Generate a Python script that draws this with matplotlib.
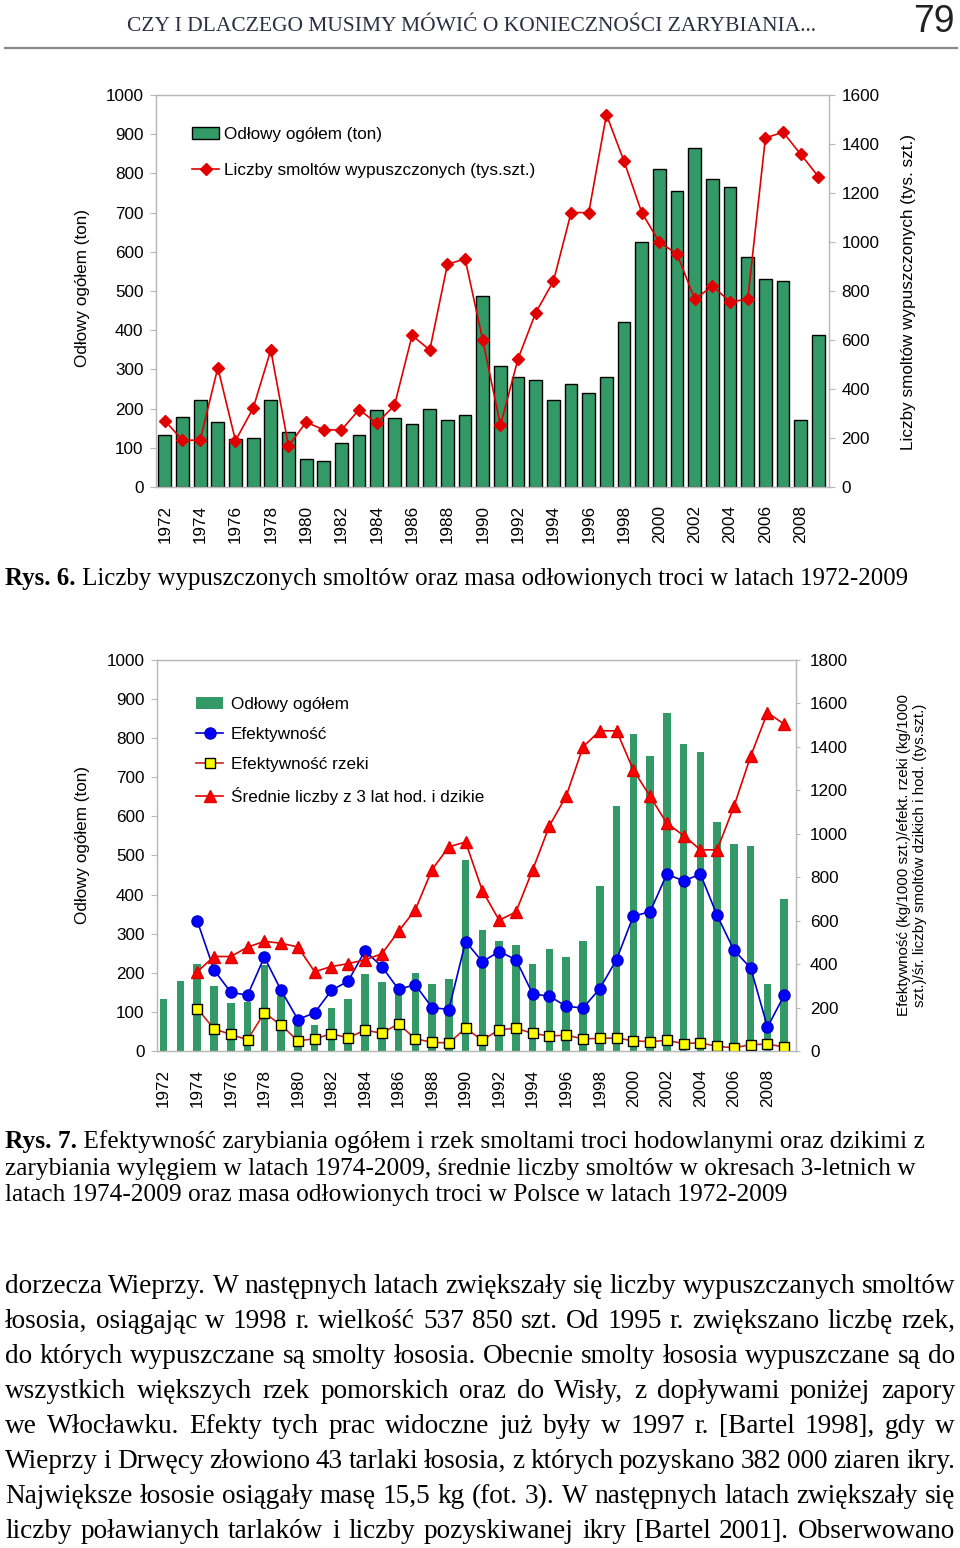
import matplotlib
matplotlib.use("Agg")
import matplotlib.pyplot as plt
from matplotlib.patches import Patch
from matplotlib.lines import Line2D

# ---- dane ----
lata = list(range(1972, 2010))
lata_ef = list(range(1974, 2010))

odlowy = [133, 179, 222, 165, 122, 126, 221, 141, 71, 66, 111, 133, 196, 177, 161, 200, 171, 184,
          488, 309, 281, 272, 222, 262, 241, 281, 422, 626, 811, 755, 864, 785, 765, 586, 530, 525,
          172, 389]
smolty = [271, 191, 191, 487, 189, 322, 559, 167, 265, 233, 233, 316, 260, 333, 619, 559, 909, 931,
          599, 252, 524, 712, 840, 1120, 1120, 1520, 1329, 1120, 999, 951, 766, 820, 756, 766, 1425,
          1448, 1358, 1267]

efektywnosc = [599, 373, 270, 257, 432, 279, 145, 176, 279, 322, 461, 389, 284, 305, 200, 191, 504,
               411, 458, 421, 263, 252, 206, 198, 287, 421, 621, 641, 814, 783, 814, 624, 464, 382,
               110, 257]
efekt_rzeki = [195, 102, 76, 52, 176, 119, 47, 56, 79, 61, 96, 82, 125, 56, 40, 37, 104, 50, 98,
               105, 81, 69, 73, 56, 58, 60, 47, 43, 49, 34, 38, 21, 15, 29, 32, 18]
srednie_3 = [365, 435, 435, 478, 505, 496, 479, 365, 389, 402, 420, 447, 551, 650, 835, 940, 962,
             738, 602, 640, 834, 1037, 1174, 1400, 1474, 1474, 1294, 1172, 1048, 992, 926, 926,
             1126, 1358, 1558, 1504]

naglowek = "CZY I DLACZEGO MUSIMY MÓWIĆ O KONIECZNOŚCI ZARYBIANIA..."
rys6 = [("Rys. 6.", "bold"), (" Liczby wypuszczonych smoltów oraz masa odłowionych troci w latach 1972-2009", "normal")]
rys7 = [[("Rys. 7.", "bold"), (" Efektywność zarybiania ogółem i rzek smoltami troci hodowlanymi oraz dzikimi z", "normal")],
        [("zarybiania wylęgiem w latach 1974-2009, średnie liczby smoltów w okresach 3-letnich w", "normal")],
        [("latach 1974-2009 oraz masa odłowionych troci w Polsce w latach 1972-2009", "normal")]]
tekst = [
    "dorzecza Wieprzy. W następnych latach zwiększały się liczby wypuszczanych smoltów",
    "łososia, osiągając w 1998 r. wielkość 537 850 szt. Od 1995 r. zwiększano liczbę rzek,",
    "do których wypuszczane są smolty łososia. Obecnie smolty łososia wypuszczane są do",
    "wszystkich większych rzek pomorskich oraz do Wisły, z dopływami poniżej zapory",
    "we Włocławku. Efekty tych prac widoczne już były w 1997 r. [Bartel 1998], gdy w",
    "Wieprzy i Drwęcy złowiono 43 tarlaki łososia, z których pozyskano 382 000 ziaren ikry.",
    "Największe łososie osiągały masę 15,5 kg (fot. 3). W następnych latach zwiększały się",
    "liczby poławianych tarlaków i liczby pozyskiwanej ikry [Bartel 2001]. Obserwowano",
]

W, H = 960, 1548
SANS = "Liberation Sans"
SERIF = "Liberation Serif"
ZIELONY = "#339966"
SZARY = "#b8b8b8"

fig = plt.figure(figsize=(9.6, 15.48), dpi=100)
renderer = fig.canvas.get_renderer()


def fx(x):
    return x / W


def fy(y):
    return 1 - y / H


def szer(t):
    return t.get_window_extent(renderer).width


def linia(x0, y, runs, size, color="black"):
    # runs: (tekst, waga) kolejno w jednej linii
    x = x0
    for s, waga in runs:
        t = fig.text(fx(x), fy(y), s, family=SERIF, fontsize=size, weight=waga,
                     color=color, va="baseline", ha="left")
        x += szer(t)
    return x - x0


def dopasuj(runs, target):
    w = 0
    for s, waga in runs:
        t = fig.text(0, 0, s, family=SERIF, fontsize=20, weight=waga)
        w += szer(t)
        t.remove()
    return 20 * target / w


def wyjustuj(x0, x1, y, s, size):
    slowa = s.split(" ")
    txt = [fig.text(0, 0, w, family=SERIF, fontsize=size, va="baseline") for w in slowa]
    szerokosci = [szer(t) for t in txt]
    odstep = (x1 - x0 - sum(szerokosci)) / (len(slowa) - 1)
    x = x0
    for t, w in zip(txt, szerokosci):
        t.set_position((fx(x), fy(y)))
        x += w + odstep


# ---- naglowek ----
rozm = dopasuj([(naglowek, "normal")], 688)
linia(127, 31, [(naglowek, "normal")], rozm, color="#2e2e44")
fig.text(fx(955), fy(32), "79", family=SANS, fontsize=27, ha="right", va="baseline", color="#222222")
fig.add_artist(Line2D([fx(5), fx(957)], [fy(48), fy(48)], color="#8a8a8a", lw=1.6))


def wspolne(ax, axr, lewy_max, prawy_max, prawy_krok, xlim):
    ax.set_xlim(*xlim)
    ax.set_ylim(0, lewy_max)
    axr.set_ylim(0, prawy_max)
    ax.set_yticks(range(0, lewy_max + 1, 100))
    axr.set_yticks(range(0, prawy_max + 1, prawy_krok))
    ax.set_xticks(lata[::2])
    ax.set_xticklabels([str(r) for r in lata[::2]], rotation=90, va="top")
    for a in (ax, axr):
        for sp in a.spines.values():
            sp.set_color(SZARY)
            sp.set_linewidth(0.9)
        a.tick_params(colors=SZARY, labelcolor="black", labelsize=12.3, length=4, width=0.8)
        for lab in a.get_yticklabels() + a.get_xticklabels():
            lab.set_family(SANS)
    ax.tick_params(axis="y", pad=5)
    axr.tick_params(axis="y", pad=5)
    ax.tick_params(axis="x", length=0, pad=13)


# ---- wykres 1 ----
ax1 = fig.add_axes([fx(156), fy(487), fx(829) - fx(156), (487 - 95) / H])
ax1r = ax1.twinx()
ax1.bar(lata, odlowy, width=0.72, color=ZIELONY, edgecolor="black", linewidth=1.0)
ax1r.plot(lata, smolty, color="#e00000", lw=1.2, marker="D", markersize=6.5)
wspolne(ax1, ax1r, 1000, 1600, 200, (1971.5, 2009.6))
ax1r.tick_params(axis="y", pad=5)
ax1r.legend([Patch(facecolor=ZIELONY, edgecolor="black"),
             Line2D([], [], color="#e00000", lw=1.2, marker="D", markersize=6.5)],
            ["Odłowy ogółem (ton)", "Liczby smoltów wypuszczonych (tys.szt.)"],
            loc="upper left", bbox_to_anchor=(fx(192), fy(127)), bbox_transform=fig.transFigure,
            frameon=False, prop={"family": SANS, "size": 12.3}, labelspacing=1.2,
            handlelength=1.6, handletextpad=0.3, borderpad=0, borderaxespad=0)
fig.text(fx(83), fy(288), "Odłowy ogółem (ton)", family=SANS, fontsize=12.3, rotation=90,
         ha="center", va="center")
fig.text(fx(908), fy(292), "Liczby smoltów wypuszczonych (tys. szt.)", family=SANS, fontsize=12.3,
         rotation=90, ha="center", va="center")

rozm6 = dopasuj(rys6, 898)
linia(5, 585, rys6, rozm6)

# ---- wykres 2 ----
ax2 = fig.add_axes([fx(157), fy(1051), fx(796) - fx(157), (1051 - 660) / H])
ax2r = ax2.twinx()
ax2.bar(lata, odlowy, width=0.45, color=ZIELONY, linewidth=0)
ax2r.plot(lata_ef, efektywnosc, color="#0000cc", lw=1.2, marker="o", markersize=8,
          markerfacecolor="#0000ff", markeredgecolor="#0000cc")
ax2r.plot(lata_ef, efekt_rzeki, color="#cc2020", lw=1.2, marker="s", markersize=7,
          markerfacecolor="#ffff00", markeredgecolor="black", markeredgewidth=1.0)
ax2r.plot(lata_ef, srednie_3, color="#e00000", lw=1.2, marker="^", markersize=8.5,
          markerfacecolor="#ff0000", markeredgecolor="#e00000")
wspolne(ax2, ax2r, 1000, 1800, 200, (1971.6, 2009.7))
ax2r.tick_params(axis="y", pad=7, length=3)
ax2r.legend([Patch(facecolor=ZIELONY, edgecolor="none"),
             Line2D([], [], color="#0000cc", lw=1.2, marker="o", markersize=8, markerfacecolor="#0000ff"),
             Line2D([], [], color="#cc2020", lw=1.2, marker="s", markersize=7,
                    markerfacecolor="#ffff00", markeredgecolor="black"),
             Line2D([], [], color="#e00000", lw=1.2, marker="^", markersize=8.5, markerfacecolor="#ff0000")],
            ["Odłowy ogółem", "Efektywność", "Efektywność rzeki", "Średnie liczby z 3 lat hod. i dzikie"],
            loc="upper left", bbox_to_anchor=(fx(196), fy(697)), bbox_transform=fig.transFigure,
            frameon=False, prop={"family": SANS, "size": 12.3}, labelspacing=0.88,
            handlelength=1.6, handletextpad=0.45, borderpad=0, borderaxespad=0)
fig.text(fx(82), fy(845), "Odłowy ogółem (ton)", family=SANS, fontsize=12.3, rotation=90,
         ha="center", va="center")
fig.text(fx(912), fy(855), "Efektywność (kg/1000 szt.)/efekt. rzeki (kg/1000\n"
         "szt.)/śr. liczby smoltów dzikich i hod. (tys.szt.)", family=SANS, fontsize=10.9,
         rotation=90, ha="center", va="center", multialignment="center", linespacing=1.2)

rozm7 = dopasuj(rys7[0], 923)
for i, runs in enumerate(rys7):
    linia(5, 1148 + i * 26.5, runs, rozm7)

# ---- tekst ----
for i, s in enumerate(tekst):
    wyjustuj(5, 955, 1293 + i * 35, s, 19.6)

fig.savefig("out.png", dpi=100)
